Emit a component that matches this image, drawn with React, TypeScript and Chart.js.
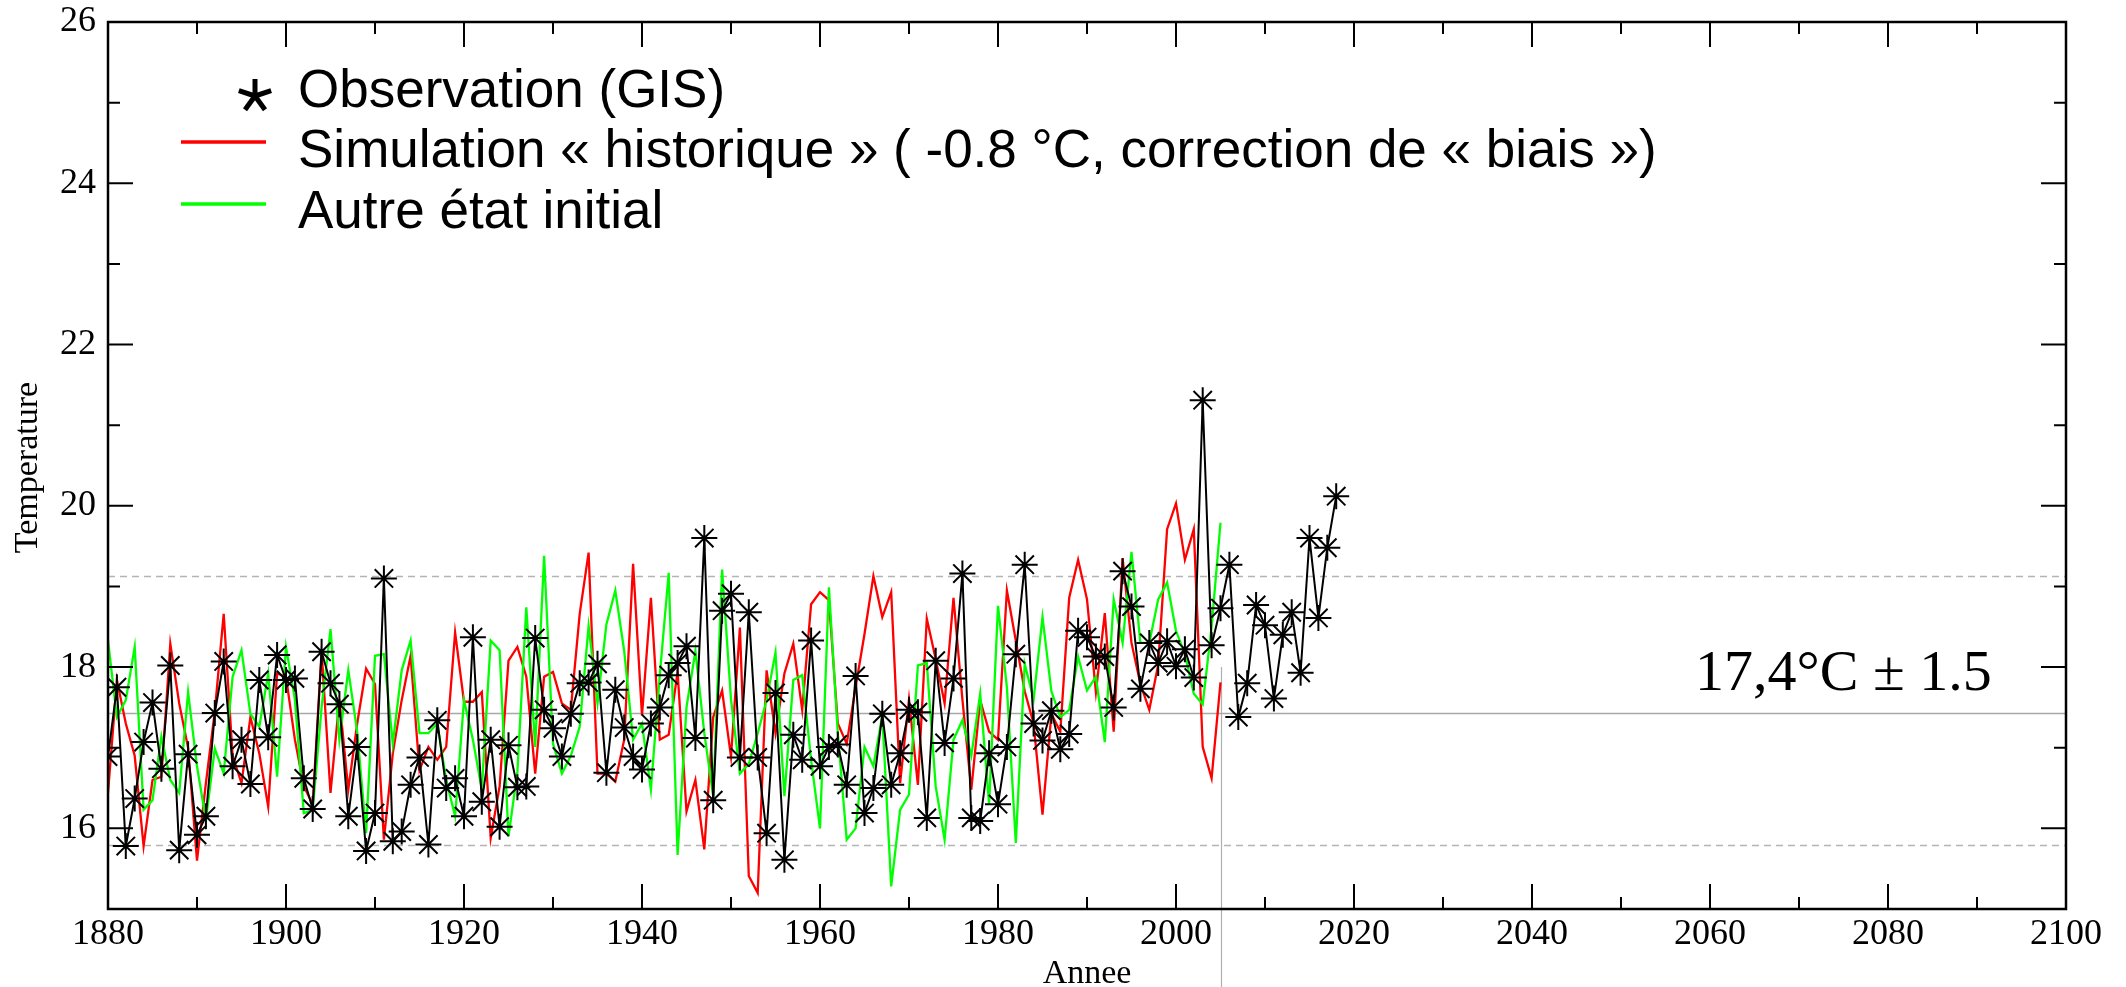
import { useEffect, useRef } from 'react';
import { Chart, registerables } from 'chart.js';

Chart.register(...registerables);

// Yearly mean temperature (°C)
const firstYear = 1880;

// Observations (GIS), 1880–2018
const observation = [
  16.89, 17.75, 15.78, 16.37, 17.07, 17.56, 16.74, 18.02, 15.73, 16.92,
  15.92, 16.15, 17.43, 18.07, 16.77, 17.10, 16.55, 17.84, 17.13, 18.15,
  17.84, 17.86, 16.62, 16.24, 18.19, 17.80, 17.54, 16.15, 17.01, 15.72,
  16.19, 19.10, 15.84, 15.96, 16.54, 16.88, 15.80, 17.34, 16.50, 16.62,
  16.15, 18.37, 16.33, 17.10, 16.02, 17.03, 16.51, 16.52, 18.36, 17.47,
  17.24, 16.89, 17.42, 17.80, 17.81, 18.04, 16.69, 17.72, 17.25, 16.89,
  16.73, 17.30, 17.50, 17.90, 18.05, 18.26, 17.12, 19.60, 16.35, 18.70,
  18.91, 16.88, 18.68, 16.88, 15.94, 17.68, 15.61, 17.16, 16.85, 18.33,
  16.77, 17.01, 17.04, 16.54, 17.89, 16.19, 16.50, 17.42, 16.54, 16.93,
  17.47, 17.44, 16.13, 18.08, 17.06, 17.86, 19.16, 16.13, 16.09, 16.93,
  16.30, 17.01, 18.16, 19.27, 17.30, 17.09, 17.46, 16.98, 17.17, 18.45,
  18.37, 18.13, 18.13, 17.50, 19.19, 18.75, 17.73, 18.30, 18.05, 18.32,
  18.01, 18.22, 17.87, 21.31, 18.27, 18.73, 19.27, 17.38, 17.80, 18.77,
  18.52, 17.61, 18.40, 18.68, 17.93, 19.60, 18.61, 19.48, 20.12,
];

// Historical simulation (-0.8 °C bias correction), 1880–2005
const simulationHistorique = [
  16.44, 17.84, 17.30, 16.90, 15.78, 16.60, 16.64, 18.29, 17.55, 17.00,
  15.60, 16.56, 17.45, 18.66, 16.90, 16.56, 17.38, 16.93, 16.27, 17.92,
  17.88, 17.10, 16.52, 16.30, 18.20, 16.44, 17.60, 16.48, 17.30, 17.98,
  17.79, 15.86, 16.93, 17.59, 18.14, 16.72, 17.01, 16.85, 17.01, 18.43,
  17.57, 17.57, 17.69, 15.88, 16.52, 18.08, 18.25, 17.88, 16.68, 17.88,
  17.94, 17.55, 17.47, 18.66, 19.42, 16.68, 16.68, 16.58, 17.10, 19.28,
  17.40, 18.86, 17.10, 17.16, 17.94, 16.21, 16.60, 15.74, 17.38, 17.71,
  16.89, 18.49, 15.41, 15.20, 17.96, 17.18, 17.92, 18.29, 17.47, 18.78,
  18.93, 18.83, 17.30, 17.05, 17.75, 18.41, 19.13, 18.62, 18.93, 16.56,
  17.60, 16.54, 18.60, 18.10, 17.55, 18.86, 17.60, 16.48, 17.59, 17.20,
  17.10, 18.95, 18.33, 17.70, 17.30, 16.17, 17.42, 17.20, 18.86, 19.33,
  18.84, 17.69, 18.67, 17.20, 19.35, 18.30, 17.79, 17.47, 18.03, 19.71,
  20.03, 19.33, 19.71, 17.01, 16.62, 17.81,
];

// Run from another initial state, 1880–2005
const autreEtatInitial = [
  18.33, 17.38, 17.59, 18.25, 16.23, 16.35, 17.14, 16.60, 16.44, 17.69,
  16.77, 16.10, 16.99, 16.68, 17.88, 18.21, 17.42, 17.26, 17.92, 16.64,
  18.25, 17.60, 16.19, 16.23, 17.50, 18.47, 17.10, 17.96, 17.20, 15.94,
  18.14, 18.16, 17.05, 17.96, 18.33, 17.18, 17.18, 17.30, 16.60, 16.15,
  17.59, 17.10, 16.48, 18.33, 18.21, 15.90, 16.70, 18.74, 17.01, 19.38,
  17.05, 16.68, 16.90, 17.26, 18.51, 17.55, 18.53, 18.95, 18.20, 17.10,
  17.30, 16.48, 17.90, 19.17, 15.67, 17.50, 18.20, 17.18, 16.40, 19.21,
  17.60, 16.68, 16.80, 17.18, 17.59, 18.18, 16.40, 17.84, 17.90, 16.85,
  16.00, 18.99, 17.18, 15.86, 16.00, 17.01, 16.77, 17.40, 15.28, 16.23,
  16.42, 18.02, 18.05, 16.52, 15.86, 17.10, 17.34, 16.90, 17.67, 16.30,
  18.76, 17.75, 15.82, 18.04, 17.60, 18.62, 17.70, 17.38, 17.47, 18.13,
  17.71, 17.88, 17.07, 18.84, 18.30, 19.43, 18.30, 18.30, 18.84, 19.05,
  18.45, 18.16, 17.67, 17.54, 18.50, 19.79,
];

const xTickLabels = [1880, 1900, 1920, 1940, 1960, 1980, 2000, 2020, 2040, 2060, 2080, 2100];
const yTickLabels = [16, 18, 20, 22, 24, 26];

// Reference levels: mean and spread band, and the end of the simulations
const meanLevel = 17.43;
const upperLevel = 19.13;
const lowerLevel = 15.79;
const simulationEndYear = 2005;
const splitLineTop = 18.0;

const legendLabels = [
  'Observation (GIS)',
  'Simulation « historique » ( -0.8 °C, correction de « biais »)',
  'Autre état initial',
];
const meanLabel = '17,4°C ± 1.5';
const xTitle = 'Annee';
const yTitle = 'Temperature';

const toPoints = (values: number[]) => values.map((v, i) => ({ x: firstYear + i, y: v }));

const SERIF = '"Liberation Serif", "Times New Roman", serif';
const SANS = '"Liberation Sans", Arial, sans-serif';

const decorations = {
  id: 'decorations',
  beforeDatasetsDraw(chart: any) {
    const { ctx, chartArea: a, scales } = chart;
    const x = scales.x;
    const y = scales.y;
    ctx.save();
    ctx.lineWidth = 1.5;
    ctx.strokeStyle = '#b4b4b4';
    ctx.setLineDash([7, 5]);
    for (const v of [upperLevel, lowerLevel]) {
      const py = Math.round(y.getPixelForValue(v)) + 0.5;
      ctx.beginPath();
      ctx.moveTo(a.left, py);
      ctx.lineTo(a.right, py);
      ctx.stroke();
    }
    ctx.setLineDash([]);
    ctx.strokeStyle = '#a8a8a8';
    const my = Math.round(y.getPixelForValue(meanLevel)) + 0.5;
    ctx.beginPath();
    ctx.moveTo(a.left, my);
    ctx.lineTo(a.right, my);
    ctx.stroke();
    const vx = Math.round(x.getPixelForValue(simulationEndYear)) + 0.5;
    ctx.lineWidth = 1.2;
    ctx.strokeStyle = '#b0b0b0';
    ctx.beginPath();
    ctx.moveTo(vx, y.getPixelForValue(splitLineTop));
    ctx.lineTo(vx, chart.height);
    ctx.stroke();
    ctx.restore();
  },
  afterDraw(chart: any) {
    const { ctx, chartArea: a, scales } = chart;
    const x = scales.x;
    const y = scales.y;
    ctx.save();

    // frame
    ctx.strokeStyle = '#000';
    ctx.lineWidth = 2.5;
    ctx.strokeRect(a.left, a.top, a.right - a.left, a.bottom - a.top);

    // inward tick marks on all four sides
    ctx.lineWidth = 2;
    for (let v = 16; v < 26; v++) {
      const len = v % 2 === 0 ? 25 : 12;
      const py = y.getPixelForValue(v);
      ctx.beginPath();
      ctx.moveTo(a.left, py);
      ctx.lineTo(a.left + len, py);
      ctx.moveTo(a.right, py);
      ctx.lineTo(a.right - len, py);
      ctx.stroke();
    }
    for (let v = 1890; v < 2100; v += 10) {
      const len = v % 20 === 0 ? 25 : 12;
      const px = x.getPixelForValue(v);
      ctx.beginPath();
      ctx.moveTo(px, a.bottom);
      ctx.lineTo(px, a.bottom - len);
      ctx.moveTo(px, a.top);
      ctx.lineTo(px, a.top + len);
      ctx.stroke();
    }

    // axis titles
    ctx.fillStyle = '#000';
    ctx.font = `34px ${SERIF}`;
    ctx.textAlign = 'center';
    ctx.textBaseline = 'alphabetic';
    ctx.fillText(xTitle, (a.left + a.right) / 2, 983);
    ctx.save();
    ctx.translate(37, (a.top + a.bottom) / 2 + 2);
    ctx.rotate(-Math.PI / 2);
    ctx.fillText(yTitle, 0, 0);
    ctx.restore();

    // mean annotation
    ctx.font = `58px ${SERIF}`;
    ctx.textAlign = 'left';
    ctx.fillText(meanLabel, 1695, 690);

    // legend
    ctx.font = `53px ${SANS}`;
    ctx.fillText(legendLabels[0], 298, 107);
    ctx.fillText(legendLabels[1], 298, 167);
    ctx.fillText(legendLabels[2], 298, 228);

    // legend marker: five-armed asterisk
    ctx.lineWidth = 5;
    ctx.lineCap = 'butt';
    const cx = 255;
    const cy = 96;
    for (let k = 0; k < 5; k++) {
      const ang = -Math.PI / 2 + (k * 2 * Math.PI) / 5;
      ctx.beginPath();
      ctx.moveTo(cx, cy);
      ctx.lineTo(cx + Math.cos(ang) * 17, cy + Math.sin(ang) * 17);
      ctx.stroke();
    }
    ctx.lineWidth = 3.5;
    ctx.strokeStyle = '#ff0000';
    ctx.beginPath();
    ctx.moveTo(181, 142);
    ctx.lineTo(266, 142);
    ctx.stroke();
    ctx.strokeStyle = '#00ff00';
    ctx.beginPath();
    ctx.moveTo(181, 204);
    ctx.lineTo(266, 204);
    ctx.stroke();

    ctx.restore();
  },
};

export default function App() {
  const canvasRef = useRef<HTMLCanvasElement | null>(null);

  useEffect(() => {
    const canvas = canvasRef.current;
    if (!canvas) return;
    const chart = new Chart(canvas, {
      type: 'line',
      data: {
        datasets: [
          {
            label: legendLabels[0],
            data: toPoints(observation),
            borderColor: '#000',
            borderWidth: 2,
            pointStyle: 'star',
            pointRadius: 13,
            pointBorderWidth: 2,
            pointBorderColor: '#000',
            pointBackgroundColor: '#000',
            tension: 0,
          },
          {
            label: legendLabels[2],
            data: toPoints(autreEtatInitial),
            borderColor: '#00ff00',
            borderWidth: 2.3,
            pointRadius: 0,
            tension: 0,
          },
          {
            label: legendLabels[1],
            data: toPoints(simulationHistorique),
            borderColor: '#ff0000',
            borderWidth: 2.3,
            pointRadius: 0,
            tension: 0,
          },
        ],
      },
      options: {
        responsive: false,
        animation: false,
        layout: { padding: { left: 0, right: 60, top: 22, bottom: 0 } },
        plugins: {
          legend: { display: false },
          tooltip: { enabled: false },
        },
        scales: {
          x: {
            type: 'linear',
            min: 1880,
            max: 2100,
            grid: { display: false, drawTicks: false },
            border: { display: false },
            afterBuildTicks: (scale: any) => {
              scale.ticks = xTickLabels.map((v) => ({ value: v }));
            },
            afterFit: (scale: any) => {
              scale.height = 78;
              scale.paddingLeft = 0;
              scale.paddingRight = 0;
            },
            ticks: {
              autoSkip: false,
              maxRotation: 0,
              padding: 4,
              color: '#000',
              font: { family: SERIF, size: 36 },
              callback: (v: any) => String(v),
            },
          },
          y: {
            type: 'linear',
            min: 15,
            max: 26,
            grid: { display: false, drawTicks: false },
            border: { display: false },
            afterBuildTicks: (scale: any) => {
              scale.ticks = yTickLabels.map((v) => ({ value: v }));
            },
            afterFit: (scale: any) => {
              scale.width = 108;
              scale.paddingTop = 0;
              scale.paddingBottom = 0;
            },
            ticks: {
              autoSkip: false,
              padding: 12,
              color: '#000',
              font: { family: SERIF, size: 36 },
              callback: (v: any) => String(v),
            },
          },
        },
      },
      plugins: [decorations],
    } as any);
    return () => chart.destroy();
  }, []);

  return (
    <div style={{ position: 'fixed', left: 0, top: 0, width: 2126, height: 987, background: '#fff' }}>
      <canvas ref={canvasRef} width={2126} height={987} style={{ display: 'block' }} />
    </div>
  );
}
